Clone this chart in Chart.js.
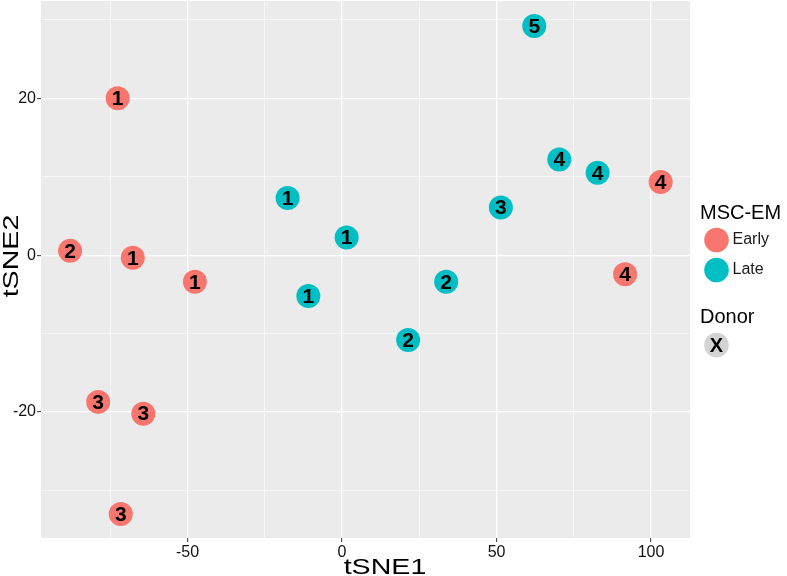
<!DOCTYPE html>
<html>
<head>
<meta charset="utf-8">
<script src="https://cdn.jsdelivr.net/npm/chart.js@4.4.1/dist/chart.umd.min.js"></script>
<style>
  html, body { margin: 0; padding: 0; background: #ffffff; }
  #wrap { width: 787px; height: 576px; position: relative; }
</style>
</head>
<body>
<div id="wrap"><canvas id="c" width="787" height="576"></canvas></div>
<script>
// ---- data ----
const groups = ["Early", "Late"];
const groupColors = ["#F8766D", "#00BFC4"];
const earlyX = [-72.6, -88.0, -67.7, -47.6, -78.9, -64.3, -71.6, 103.1, 91.6];
const earlyY = [20.0, 0.55, -0.34, -3.4, -18.7, -20.2, -33.0, 9.34, -2.42];
const earlyDonor = ["1", "2", "1", "1", "3", "3", "3", "4", "4"];
const lateX = [-17.6, 1.5, -10.9, 33.7, 21.4, 51.4, 70.3, 82.7, 62.2];
const lateY = [7.3, 2.25, -5.2, -3.4, -10.8, 6.07, 12.2, 10.5, 29.2];
const lateDonor = ["1", "1", "1", "2", "2", "3", "4", "4", "5"];
const xMajorTicks = [-50, 0, 50, 100];
const xMinorTicks = [-75, -25, 25, 75];
const yMajorTicks = [-20, 0, 20];
const yMinorTicks = [-30, -10, 10, 30];
const xTitle = "tSNE1";
const yTitle = "tSNE2";
const legendTitle = "MSC-EM";
const donorTitle = "Donor";
const donorKey = "X";

const toPoints = (xs, ys, ls) => xs.map((x, i) => ({ x: x, y: ys[i], label: ls[i] }));

const FONT = "'Liberation Sans', Arial, Helvetica, sans-serif";

const panelBg = {
  id: 'panelBg',
  beforeDraw(chart) {
    const { ctx, chartArea: a } = chart;
    ctx.save();
    ctx.fillStyle = '#EBEBEB';
    ctx.fillRect(a.left, a.top, a.right - a.left, a.bottom - a.top);
    ctx.restore();
  }
};

const pointLabels = {
  id: 'pointLabels',
  afterDatasetsDraw(chart) {
    const ctx = chart.ctx;
    ctx.save();
    ctx.font = "bold 21px " + FONT;
    ctx.fillStyle = '#000000';
    ctx.textAlign = 'center';
    ctx.textBaseline = 'middle';
    chart.data.datasets.forEach((ds, di) => {
      const meta = chart.getDatasetMeta(di);
      meta.data.forEach((el, i) => {
        ctx.fillText(ds.data[i].label, el.x, el.y + 1);
      });
    });
    ctx.restore();
  }
};

// axis titles (drawn slightly wide, as in the reference)
const axisTitles = {
  id: 'axisTitles',
  afterDraw(chart) {
    const ctx = chart.ctx;
    ctx.save();
    ctx.fillStyle = '#000';
    ctx.font = "22px " + FONT;
    ctx.textAlign = 'center';
    ctx.textBaseline = 'alphabetic';
    ctx.save();
    ctx.translate(385, 574);
    ctx.scale(1.3, 1);
    ctx.fillText(xTitle, 0, 0);
    ctx.restore();
    ctx.save();
    ctx.translate(18, 256);
    ctx.rotate(-Math.PI / 2);
    ctx.scale(1.3, 1);
    ctx.fillText(yTitle, 0, 0);
    ctx.restore();
    ctx.restore();
  }
};

const customLegend = {
  id: 'customLegend',
  afterDraw(chart) {
    const ctx = chart.ctx;
    ctx.save();
    const tx = 700, kx = 716.5, lx = 732.5;
    ctx.fillStyle = '#000';
    ctx.textBaseline = 'middle';
    ctx.textAlign = 'left';
    ctx.font = "20px " + FONT;
    ctx.fillText(legendTitle, tx, 213);
    groups.forEach((g, i) => {
      const cy = 240 + i * 30;
      ctx.beginPath();
      ctx.arc(kx, cy, 12.3, 0, Math.PI * 2);
      ctx.fillStyle = groupColors[i];
      ctx.fill();
      ctx.fillStyle = '#1a1a1a';
      ctx.font = "16px " + FONT;
      ctx.fillText(g, lx, cy);
    });
    ctx.fillStyle = '#000';
    ctx.font = "20px " + FONT;
    ctx.fillText(donorTitle, tx, 317);
    ctx.beginPath();
    ctx.arc(kx, 345, 12.3, 0, Math.PI * 2);
    ctx.fillStyle = '#D3D3D3';
    ctx.fill();
    ctx.fillStyle = '#000';
    ctx.font = "bold 20px " + FONT;
    ctx.textAlign = 'center';
    ctx.fillText(donorKey, kx, 346);
    ctx.restore();
  }
};

function setTicks(major, minor) {
  return function (scale) {
    const all = major.concat(minor).sort((a, b) => a - b);
    scale.ticks = all.map(v => ({ value: v, major: major.includes(v) }));
  };
}
function gridWidth(major) {
  return ctx => (ctx.tick && major.includes(ctx.tick.value)) ? 1.3 : 0.6;
}
function tickCol(major) {
  return ctx => (ctx.tick && major.includes(ctx.tick.value)) ? '#333333' : 'rgba(0,0,0,0)';
}

new Chart(document.getElementById('c'), {
  type: 'scatter',
  data: {
    datasets: [
      { label: groups[0], data: toPoints(earlyX, earlyY, earlyDonor), backgroundColor: groupColors[0], borderWidth: 0, pointRadius: 12, pointHoverRadius: 12 },
      { label: groups[1], data: toPoints(lateX, lateY, lateDonor), backgroundColor: groupColors[1], borderWidth: 0, pointRadius: 12, pointHoverRadius: 12 }
    ]
  },
  options: {
    responsive: false,
    animation: false,
    events: [],
    layout: { autoPadding: false, padding: { left: 0, right: 97, top: 1, bottom: 0 } },
    plugins: { legend: { display: false }, tooltip: { enabled: false } },
    scales: {
      x: {
        type: 'linear',
        min: -97.4, max: 112.6,
        afterBuildTicks: setTicks(xMajorTicks, xMinorTicks),
        afterFit: s => { s.height = 38; s.paddingLeft = 0; s.paddingRight = 0; },
        border: { display: false },
        grid: { color: '#FFFFFF', lineWidth: gridWidth(xMajorTicks), tickLength: 4, tickColor: tickCol(xMajorTicks), tickWidth: 1 },
        ticks: {
          autoSkip: false, maxRotation: 0, padding: 1,
          color: '#111111', font: { family: FONT, size: 16 },
          callback: v => xMajorTicks.includes(v) ? String(v) : ''
        },
        title: { display: false }
      },
      y: {
        type: 'linear',
        min: -36.05, max: 32.4,
        afterBuildTicks: setTicks(yMajorTicks, yMinorTicks),
        afterFit: s => { s.width = 41; s.paddingTop = 0; s.paddingBottom = 0; },
        border: { display: false },
        grid: { color: '#FFFFFF', lineWidth: gridWidth(yMajorTicks), tickLength: 4, tickColor: tickCol(yMajorTicks), tickWidth: 1 },
        ticks: {
          autoSkip: false, padding: 1,
          color: '#111111', font: { family: FONT, size: 16 },
          callback: v => yMajorTicks.includes(v) ? String(v) : ''
        },
        title: { display: false }
      }
    }
  },
  plugins: [panelBg, pointLabels, axisTitles, customLegend]
});
</script>
</body>
</html>
